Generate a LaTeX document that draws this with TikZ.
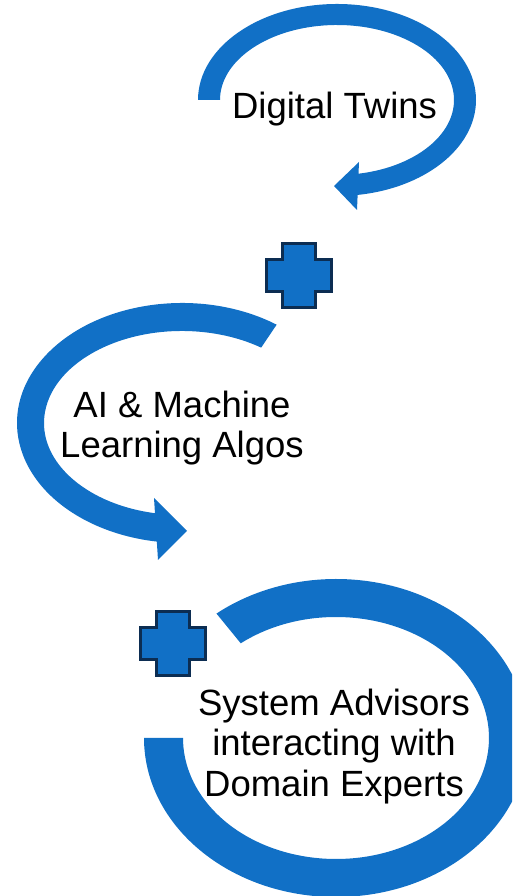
\documentclass[tikz,border=0pt]{standalone}
\usepackage{fontspec}
\setmainfont{Liberation Sans}
\definecolor{ringblue}{HTML}{1170C6}
\definecolor{plusnavy}{HTML}{0C2D52}
\tikzset{
  ring/.style={fill=ringblue},
  stagetext/.style={font=\fontsize{36.5}{40.5}\selectfont, align=center, inner sep=0pt},
  plussign/.pic={
    \draw[fill=ringblue, draw=plusnavy, line width=3pt, line join=miter]
      (-16.5,-32) -- (16.5,-32) -- (16.5,-16) -- (32.5,-16) -- (32.5,16)
      -- (16.5,16) -- (16.5,32) -- (-16.5,32) -- (-16.5,16) -- (-32.5,16)
      -- (-32.5,-16) -- (-16.5,-16) -- cycle;
  }
}

\begin{document}
\begin{tikzpicture}[x=1pt,y=1pt]
  \clip (0,0) rectangle (512,896);
  % digital twins loop
  \begin{scope}[shift={(337,796)}]
    \fill[ring] (180:139 and 96) arc[start angle=180, end angle=-83, x radius=139, y radius=96]
      -- (-83:117 and 75) arc[start angle=-83, end angle=180, x radius=117, y radius=75] -- cycle;
  \end{scope}
  \fill[ring] (334,710) -- (359,734) -- (357,686) -- cycle;
  % algos loop
  \begin{scope}[shift={(182,473)}]
    \fill[ring] (55:165 and 120) arc[start angle=55, end angle=263, x radius=165, y radius=120]
      -- (263:138 and 92) arc[start angle=263, end angle=55, x radius=138, y radius=92] -- cycle;
  \end{scope}
  \fill[ring] (187,365) -- (154,398) -- (158,336) -- cycle;
  % advisors ring
  \begin{scope}[shift={(336,158)}]
    \fill[ring] (180:192 and 159) arc[start angle=180, end angle=488.5, x radius=192, y radius=159]
      -- (488.5:153 and 121) arc[start angle=488.5, end angle=180, x radius=153, y radius=121] -- cycle;
  \end{scope}
  % plus signs
  \pic at (299,620.5) {plussign};
  \pic at (172.5,252) {plussign};
  % texts
  \node[stagetext, anchor=base] (twins) at (334.5,777) {Digital Twins};
  \node[stagetext] (algos) at (182,468) {AI \& Machine\\Learning Algos};
  \node[stagetext] (advisors) at (334,149.7) {System Advisors\\interacting with\\Domain Experts};
\end{tikzpicture}
\end{document}
